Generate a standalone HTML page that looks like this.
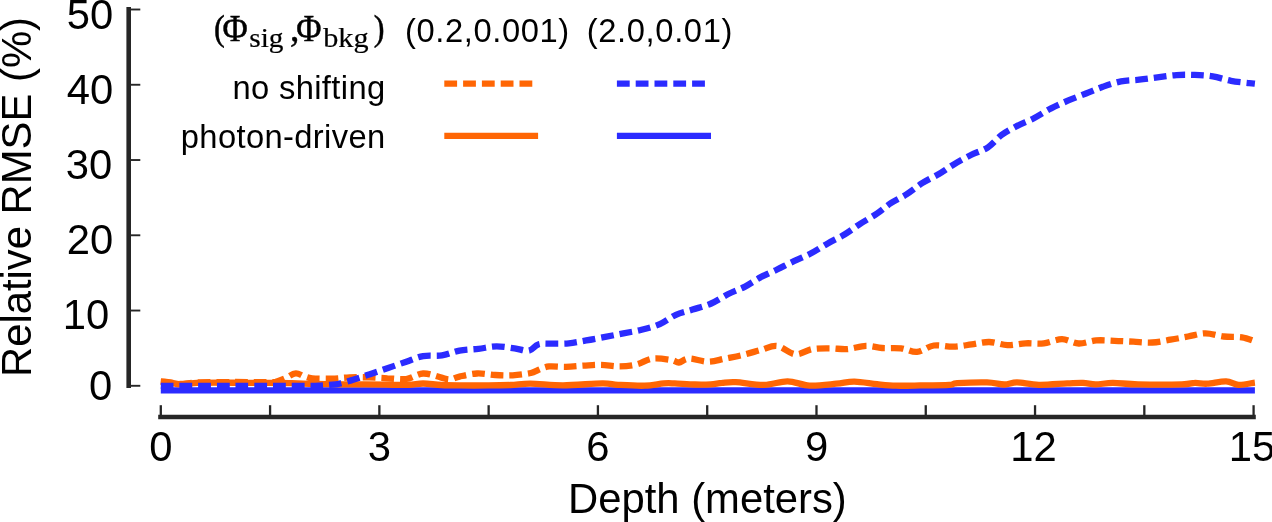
<!DOCTYPE html>
<html><head><meta charset="utf-8"><title>chart</title>
<style>html,body{margin:0;padding:0;background:#fff;overflow:hidden}svg{display:block;will-change:transform}</style>
</head><body>
<svg width="1272" height="522" viewBox="0 0 1272 522">
<rect width="1272" height="522" fill="#fff"/>
<g stroke="#262626" fill="none">
<line x1="128.7" y1="6.9" x2="128.7" y2="387.9" stroke-width="4.6"/>
<line x1="158.2" y1="417" x2="1255.8" y2="417" stroke-width="4.6"/>
<line x1="130" y1="385.80" x2="140.3" y2="385.80" stroke-width="1.9"/>
<line x1="130" y1="310.54" x2="140.3" y2="310.54" stroke-width="1.9"/>
<line x1="130" y1="235.28" x2="140.3" y2="235.28" stroke-width="1.9"/>
<line x1="130" y1="160.02" x2="140.3" y2="160.02" stroke-width="1.9"/>
<line x1="130" y1="84.76" x2="140.3" y2="84.76" stroke-width="1.9"/>
<line x1="130" y1="9.50" x2="140.3" y2="9.50" stroke-width="1.9"/>
<line x1="160.80" y1="405.2" x2="160.80" y2="416" stroke-width="2.3"/>
<line x1="270.08" y1="405.2" x2="270.08" y2="416" stroke-width="2.3"/>
<line x1="379.36" y1="405.2" x2="379.36" y2="416" stroke-width="2.3"/>
<line x1="488.64" y1="405.2" x2="488.64" y2="416" stroke-width="2.3"/>
<line x1="597.92" y1="405.2" x2="597.92" y2="416" stroke-width="2.3"/>
<line x1="707.20" y1="405.2" x2="707.20" y2="416" stroke-width="2.3"/>
<line x1="816.48" y1="405.2" x2="816.48" y2="416" stroke-width="2.3"/>
<line x1="925.76" y1="405.2" x2="925.76" y2="416" stroke-width="2.3"/>
<line x1="1035.04" y1="405.2" x2="1035.04" y2="416" stroke-width="2.3"/>
<line x1="1144.32" y1="405.2" x2="1144.32" y2="416" stroke-width="2.3"/>
<line x1="1253.59" y1="405.2" x2="1253.59" y2="416" stroke-width="2.3"/>
</g>
<g fill="none" stroke-width="6.3" stroke-linejoin="round">
<line x1="160.8" y1="390.4" x2="1254.9" y2="390.4" stroke="#2B2BFF"/>
<path d="M160.8 381.7C162.3 381.8 166.3 382.0 169.5 382.4C172.8 382.9 175.9 384.2 180.5 384.3C185.1 384.4 190.8 383.2 197.2 382.9C203.7 382.7 210.6 382.6 219.1 382.6C227.6 382.6 239.7 382.9 248.2 382.9C256.7 383.0 262.8 382.9 270.1 382.9C277.4 383.0 284.7 383.0 291.9 383.2C299.2 383.3 305.3 383.7 313.8 383.9C322.3 384.1 334.4 384.2 342.9 384.3C351.4 384.4 357.5 384.2 364.8 384.3C372.1 384.4 379.4 384.6 386.6 384.7C393.9 384.8 402.4 385.1 408.5 384.9C414.6 384.7 417.6 383.5 423.1 383.5C428.5 383.6 435.2 384.7 441.3 385.0C447.4 385.4 451.6 385.4 459.5 385.4C467.4 385.5 480.1 385.5 488.6 385.4C497.1 385.4 503.6 385.3 510.5 385.0C517.4 384.8 521.4 383.7 530.2 383.7C538.9 383.7 551.0 385.3 563.0 385.3C575.0 385.2 593.1 383.5 602.3 383.4C611.5 383.3 610.9 384.4 618.0 384.8C625.1 385.2 637.2 386.0 644.8 385.7C652.4 385.5 658.6 383.8 663.6 383.4C668.6 383.0 669.5 383.2 674.7 383.4C679.9 383.6 689.0 384.4 695.0 384.5C701.0 384.7 706.3 384.6 710.8 384.3C715.3 384.0 717.9 383.2 722.0 382.9C726.1 382.5 728.7 381.8 735.7 382.1C742.7 382.4 755.4 385.0 764.0 384.8C772.6 384.7 780.0 381.2 787.6 381.3C795.2 381.4 801.5 385.2 809.6 385.6C817.7 386.0 828.9 384.4 836.4 383.7C843.9 383.0 847.6 381.5 854.4 381.6C861.2 381.7 870.2 383.5 877.2 384.2C884.2 384.9 889.0 385.5 896.1 385.7C903.2 385.9 911.1 385.6 920.0 385.4C928.9 385.3 943.1 385.2 949.3 384.8C955.5 384.4 950.9 383.6 957.2 383.2C963.5 382.8 979.1 382.2 987.0 382.4C994.9 382.6 999.3 384.5 1004.3 384.5C1009.3 384.5 1011.1 382.4 1016.9 382.4C1022.7 382.5 1030.5 384.7 1038.9 384.8C1047.3 385.0 1059.9 383.7 1067.2 383.4C1074.5 383.1 1078.3 382.7 1083.0 382.9C1087.7 383.0 1090.6 384.4 1095.6 384.4C1100.6 384.4 1105.8 382.9 1112.9 382.9C1120.0 382.9 1126.5 384.2 1138.0 384.4C1149.5 384.7 1172.6 384.7 1182.0 384.4C1191.4 384.2 1190.4 383.0 1194.6 382.9C1198.8 382.7 1202.0 384.0 1207.2 383.7C1212.5 383.4 1220.8 381.1 1226.1 381.3C1231.3 381.5 1233.9 384.6 1238.7 384.8C1243.5 385.0 1252.2 382.9 1254.9 382.6" stroke="#FF6604"/>
<path d="M160.8 381.7C162.6 381.8 168.1 382.4 171.7 382.8C175.4 383.2 178.4 384.0 182.7 383.9C186.9 383.9 188.7 382.7 197.2 382.4C205.7 382.1 221.5 382.1 233.7 382.0C245.8 382.0 262.8 382.3 270.1 382.2C277.4 382.1 274.7 382.0 277.4 381.3C280.0 380.6 283.1 379.2 286.1 377.9C289.1 376.6 292.5 373.6 295.6 373.4C298.6 373.1 301.5 375.6 304.3 376.4C307.1 377.2 307.7 377.9 312.3 378.3C316.9 378.7 325.8 378.8 332.0 378.7C338.2 378.5 343.3 377.6 349.5 377.4C355.7 377.2 362.8 377.2 369.2 377.4C375.5 377.5 381.2 378.0 387.4 378.3C393.6 378.5 400.4 379.8 406.3 379.0C412.3 378.2 417.4 373.7 423.1 373.5C428.8 373.2 436.1 376.4 440.6 377.4C445.0 378.4 446.9 379.5 450.0 379.4C453.2 379.3 455.0 377.6 459.5 376.6C464.0 375.6 471.0 373.7 477.0 373.5C482.9 373.2 489.2 374.7 495.2 375.0C501.1 375.4 506.7 375.7 512.7 375.3C518.6 375.0 526.6 373.9 530.9 373.0C535.1 372.1 535.1 371.1 538.2 370.0C541.2 368.9 544.5 366.9 549.1 366.4C553.7 365.9 560.2 367.0 565.9 366.8C571.6 366.7 577.5 366.0 583.3 365.6C589.2 365.3 594.8 364.7 600.8 364.8C606.9 364.9 613.8 366.5 619.8 366.4C625.8 366.3 631.4 365.7 636.9 364.4C642.4 363.0 646.8 359.3 652.6 358.6C658.3 357.8 667.1 359.4 671.5 360.1C675.9 360.7 675.9 362.7 678.8 362.5C681.7 362.2 684.1 358.7 689.0 358.6C693.8 358.4 701.9 361.7 707.9 361.7C713.9 361.7 719.2 359.7 725.0 358.6C730.9 357.4 736.9 356.4 742.9 354.9C748.9 353.5 755.4 351.4 761.1 349.9C766.8 348.4 771.4 345.2 777.1 345.9C782.8 346.6 789.5 353.7 795.3 354.3C801.2 354.8 806.3 350.1 812.1 349.1C817.9 348.1 824.5 348.3 830.3 348.3C836.1 348.3 841.1 349.5 847.1 349.1C853.0 348.7 860.2 346.1 866.0 345.9C871.8 345.7 876.2 347.6 882.0 348.0C887.9 348.4 895.2 347.7 901.0 348.3C906.8 349.0 911.6 352.4 917.0 351.9C922.5 351.5 927.7 346.3 933.8 345.5C939.8 344.6 947.1 346.9 953.4 346.7C959.8 346.6 965.7 345.2 971.7 344.4C977.6 343.6 983.2 341.9 989.1 342.0C995.1 342.1 1001.3 344.9 1007.4 345.2C1013.4 345.4 1019.5 343.6 1025.6 343.3C1031.6 343.0 1037.7 344.0 1043.8 343.3C1049.8 342.6 1056.2 339.2 1062.0 339.2C1067.8 339.3 1073.0 343.3 1078.7 343.5C1084.5 343.7 1090.3 340.9 1096.2 340.4C1102.2 340.0 1108.3 340.6 1114.4 340.8C1120.6 341.0 1127.1 341.4 1133.4 341.7C1139.7 342.0 1146.1 342.9 1152.3 342.5C1158.5 342.2 1164.6 340.7 1170.5 339.7C1176.5 338.7 1182.2 337.6 1188.0 336.5C1193.9 335.5 1199.6 333.3 1205.5 333.3C1211.5 333.3 1217.7 335.8 1223.7 336.5C1229.8 337.2 1236.7 336.5 1241.9 337.3C1247.1 338.1 1252.7 340.6 1254.9 341.2" stroke="#FF6604" stroke-dasharray="12.69 5.94"/>
<path d="M160.8 385.8C172.9 385.8 209.4 385.8 233.7 385.8C257.9 385.8 291.9 385.8 306.5 385.8C321.1 385.8 316.2 385.9 321.1 385.6C325.9 385.4 332.5 384.6 335.6 384.3C338.8 383.9 337.1 384.3 340.0 383.5C342.9 382.8 348.2 381.3 353.1 379.8C358.1 378.2 364.1 376.2 369.9 374.2C375.7 372.2 382.0 370.0 388.1 368.0C394.2 365.9 400.5 363.7 406.3 361.7C412.1 359.7 417.1 357.2 423.1 356.1C429.0 355.1 435.9 356.3 442.0 355.4C448.1 354.5 453.4 351.8 459.5 350.7C465.6 349.5 472.2 349.5 478.4 348.8C484.6 348.1 490.6 346.5 496.7 346.4C502.7 346.4 509.2 347.6 514.5 348.3C519.8 349.0 524.8 351.3 528.7 350.7C532.7 350.0 534.5 345.6 538.2 344.4C541.8 343.2 545.5 343.8 550.6 343.7C555.7 343.5 562.8 343.8 568.8 343.3C574.7 342.7 580.2 341.5 586.3 340.4C592.3 339.4 599.0 338.1 605.2 336.9C611.4 335.7 617.3 334.5 623.4 333.3C629.5 332.2 635.6 331.3 641.6 329.7C647.7 328.2 654.1 326.6 659.8 324.1C665.5 321.6 670.4 317.2 675.9 314.8C681.3 312.4 686.7 311.5 692.6 309.6C698.5 307.7 705.3 306.1 711.2 303.5C717.2 300.9 722.7 296.8 728.3 294.0C734.0 291.2 739.7 289.4 745.1 286.6C750.4 283.8 755.0 280.3 760.4 277.4C765.7 274.6 771.6 272.2 777.1 269.5C782.7 266.8 788.3 263.8 793.9 261.2C799.5 258.5 805.0 256.5 810.6 253.5C816.3 250.5 822.1 246.6 827.8 243.4C833.4 240.2 839.1 237.8 844.5 234.5C849.9 231.3 854.8 227.3 860.2 223.8C865.6 220.4 871.8 217.1 876.9 213.7C882.0 210.2 885.8 206.5 890.8 203.2C895.8 200.0 901.6 197.5 906.8 194.2C912.0 190.9 916.8 186.6 922.1 183.2C927.5 179.8 933.5 177.2 938.9 174.0C944.2 170.8 948.8 167.3 954.2 164.2C959.5 161.0 965.3 157.8 970.9 155.0C976.6 152.2 982.9 150.6 988.0 147.3C993.1 144.0 996.7 138.7 1001.5 135.1C1006.4 131.5 1011.8 128.7 1017.2 125.9C1022.6 123.1 1028.3 121.1 1033.9 118.2C1039.6 115.3 1045.4 111.3 1051.1 108.4C1056.7 105.5 1062.0 103.2 1067.8 100.7C1073.6 98.2 1080.2 95.8 1086.0 93.5C1091.9 91.2 1097.0 88.8 1102.8 86.8C1108.6 84.8 1114.9 82.6 1121.0 81.4C1127.1 80.2 1133.1 80.4 1139.2 79.7C1145.3 79.1 1151.2 78.2 1157.4 77.4C1163.6 76.6 1170.2 75.5 1176.4 75.1C1182.6 74.6 1188.5 74.7 1194.6 74.9C1200.7 75.1 1206.7 75.4 1212.8 76.4C1218.9 77.4 1224.9 79.7 1231.0 80.8C1237.1 82.0 1245.2 82.6 1249.2 83.1C1253.2 83.6 1254.0 83.5 1254.9 83.6" stroke="#2B2BFF" stroke-dasharray="12.73 5.97"/>
<line x1="444.3" y1="83.7" x2="532.3" y2="83.7" stroke="#FF6604" stroke-dasharray="12.8 6"/>
<line x1="444.3" y1="135.8" x2="538.1" y2="135.8" stroke="#FF6604"/>
<line x1="616.9" y1="83.7" x2="704.9" y2="83.7" stroke="#2B2BFF" stroke-dasharray="12.8 6"/>
<line x1="616.9" y1="135.8" x2="711" y2="135.8" stroke="#2B2BFF"/>
</g>
<g font-family="'Liberation Sans', sans-serif" fill="#000">
<text x="113.3" y="29.3" font-size="41.8" text-anchor="end">50</text>
<text x="113.3" y="104.4" font-size="41.8" text-anchor="end">40</text>
<text x="112.3" y="178.5" font-size="41.8" text-anchor="end">30</text>
<text x="113.3" y="254.0" font-size="41.8" text-anchor="end">20</text>
<text x="109.3" y="329.0" font-size="41.8" text-anchor="end">10</text>
<text x="112.3" y="399.7" font-size="41.8" text-anchor="end">0</text>
<text x="160.8" y="461.2" font-size="41.8" text-anchor="middle">0</text>
<text x="379.4" y="461.2" font-size="41.8" text-anchor="middle">3</text>
<text x="597.9" y="461.2" font-size="41.8" text-anchor="middle">6</text>
<text x="816.5" y="461.2" font-size="41.8" text-anchor="middle">9</text>
<text x="1033.5" y="461.2" font-size="41.8" text-anchor="middle">12</text>
<text x="1252.1" y="461.2" font-size="41.8" text-anchor="middle">15</text>
<text x="707.4" y="512.7" font-size="41.8" text-anchor="middle">Depth (meters)</text>
<text transform="translate(31.2 197) rotate(-90)" font-size="41.8" text-anchor="middle">Relative RMSE (%)</text>
<text x="385.5" y="98.9" font-size="32.7" text-anchor="end" letter-spacing="0.37">no shifting</text>
<text x="385.5" y="147.9" font-size="32.7" text-anchor="end" letter-spacing="0.37">photon-driven</text>
<text x="404.9" y="41.5" font-size="32.7" textLength="164.3" lengthAdjust="spacing">(0.2,0.001)</text>
<text x="586.7" y="41.5" font-size="32.7" textLength="145.7" lengthAdjust="spacing">(2.0,0.01)</text>
</g>
<g font-family="'Liberation Serif', serif" fill="#000" stroke="#000" stroke-width="0.5">
<text transform="translate(213.9 40.0) scale(0.9 1)" font-size="36" text-anchor="start">(</text>
<text transform="translate(235.2 41.1) scale(0.92 1)" font-size="37.5" text-anchor="middle">Φ</text>
<text transform="translate(249.3 46.6) scale(1.085 1)" font-size="27" text-anchor="start" stroke-width="0.2">sig</text>
<text transform="translate(290 41.1) scale(1 1)" font-size="37.5" text-anchor="start">,</text>
<text transform="translate(308.8 41.1) scale(0.92 1)" font-size="37.5" text-anchor="middle">Φ</text>
<text transform="translate(323.2 46.6) scale(1.12 1)" font-size="27" text-anchor="start" stroke-width="0.2">bkg</text>
<text transform="translate(384.6 40.0) scale(0.9 1)" font-size="36" text-anchor="end">)</text>
</g>
</svg>
</body></html>
